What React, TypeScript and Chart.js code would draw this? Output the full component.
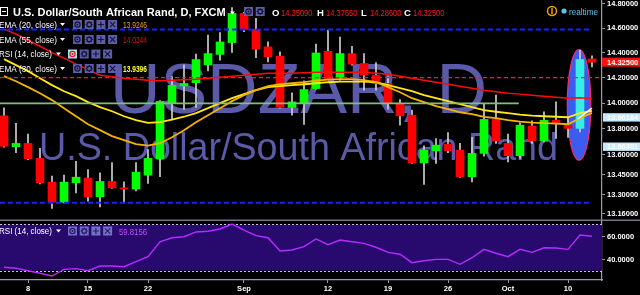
import React, { useEffect, useRef } from 'react';
import { Chart, registerables } from 'chart.js';

Chart.register(...registerables);

const FONT = "'Liberation Sans', Arial, Helvetica, sans-serif";

// ---- categories (trading days) ----
const dates = [
  'Aug 4', 'Aug 5', 'Aug 8', 'Aug 9', 'Aug 10', 'Aug 11', 'Aug 12', 'Aug 15', 'Aug 16', 'Aug 17',
  'Aug 18', 'Aug 19', 'Aug 22', 'Aug 23', 'Aug 24', 'Aug 25', 'Aug 26', 'Aug 29', 'Aug 30', 'Aug 31',
  'Sep 1', 'Sep 2', 'Sep 5', 'Sep 6', 'Sep 7', 'Sep 8', 'Sep 9', 'Sep 12', 'Sep 13', 'Sep 14',
  'Sep 15', 'Sep 16', 'Sep 19', 'Sep 20', 'Sep 21', 'Sep 22', 'Sep 23', 'Sep 26', 'Sep 27', 'Sep 28',
  'Sep 29', 'Sep 30', 'Oct 3', 'Oct 4', 'Oct 5', 'Oct 6', 'Oct 7', 'Oct 10', 'Oct 11', 'Oct 12',
];

// ---- OHLC ----
const opens = [
  13.901, 13.662, 13.688, 13.574, 13.395, 13.245, 13.390, 13.425, 13.285, 13.400,
  13.352, 13.343, 13.447, 13.571, 13.998, 14.136, 14.161, 14.303, 14.387, 14.483,
  14.721, 14.590, 14.448, 14.373, 13.966, 14.002, 14.115, 14.412, 14.202, 14.394,
  14.314, 14.221, 14.155, 13.998, 13.906, 13.540, 13.632, 13.683, 13.637, 13.435,
  13.612, 13.873, 13.688, 13.594, 13.823, 13.708, 13.867, 13.829, 13.804, 14.3509,
];
const highs = [
  13.963, 13.842, 13.759, 13.650, 13.440, 13.447, 13.551, 13.490, 13.465, 13.543,
  13.397, 13.543, 13.642, 14.020, 14.209, 14.303, 14.389, 14.543, 14.565, 14.770,
  14.730, 14.680, 14.488, 14.407, 14.081, 14.176, 14.470, 14.584, 14.527, 14.453,
  14.394, 14.322, 14.207, 14.029, 13.945, 13.670, 13.726, 13.772, 13.688, 13.734,
  13.992, 14.063, 13.759, 13.847, 13.862, 13.932, 14.010, 13.893, 14.421, 14.3765,
];
const lows = [
  13.660, 13.617, 13.565, 13.382, 13.199, 13.240, 13.315, 13.252, 13.211, 13.348,
  13.247, 13.330, 13.385, 13.435, 13.880, 13.951, 13.966, 14.255, 14.341, 14.403,
  14.571, 14.360, 14.327, 13.960, 13.906, 13.834, 14.110, 14.190, 14.181, 14.300,
  14.102, 14.102, 13.953, 13.829, 13.535, 13.377, 13.536, 13.617, 13.430, 13.397,
  13.591, 13.688, 13.548, 13.574, 13.688, 13.700, 13.726, 13.734, 13.777, 14.286,
];
const closes = [
  13.667, 13.688, 13.571, 13.390, 13.245, 13.395, 13.432, 13.285, 13.400, 13.352,
  13.343, 13.470, 13.574, 14.014, 14.140, 14.155, 14.346, 14.394, 14.488, 14.721,
  14.590, 14.429, 14.367, 13.966, 14.010, 14.107, 14.399, 14.194, 14.394, 14.309,
  14.221, 14.155, 13.998, 13.901, 13.540, 13.637, 13.675, 13.632, 13.435, 13.612,
  13.873, 13.708, 13.594, 13.829, 13.708, 13.867, 13.847, 13.804, 14.346, 14.325,
];

// ---- indicators ----
const ema20 = [
  14.213, 14.173, 14.126, 14.078, 14.024, 13.961, 13.898, 13.836, 13.790, 13.744,
  13.713, 13.683, 13.671, 13.690, 13.736, 13.790, 13.852, 13.906, 13.961, 14.016,
  14.063, 14.102, 14.134, 14.149, 14.157, 14.165, 14.177, 14.185, 14.189, 14.189,
  14.181, 14.165, 14.126, 14.086, 14.039, 14.008, 13.977, 13.953, 13.929, 13.914,
  13.893, 13.883, 13.867, 13.856, 13.848, 13.844, 13.840, 13.836, 13.883, 13.9246,
];
const ema30 = [
  14.349, 14.301, 14.253, 14.197, 14.142, 14.094, 14.055, 14.008, 13.969, 13.937,
  13.898, 13.867, 13.846, 13.852, 13.871, 13.894, 13.922, 13.961, 14.000, 14.039,
  14.071, 14.102, 14.126, 14.134, 14.142, 14.149, 14.157, 14.165, 14.169, 14.169,
  14.169, 14.165, 14.142, 14.118, 14.094, 14.063, 14.039, 14.016, 13.992, 13.969,
  13.945, 13.933, 13.922, 13.910, 13.902, 13.898, 13.894, 13.890, 13.922, 13.9396,
];
const ema55 = [
  14.592, 14.551, 14.502, 14.453, 14.401, 14.357, 14.309, 14.265, 14.221, 14.209,
  14.197, 14.189, 14.181, 14.177, 14.181, 14.185, 14.189, 14.197, 14.205, 14.213,
  14.221, 14.229, 14.237, 14.237, 14.237, 14.241, 14.245, 14.245, 14.245, 14.245,
  14.245, 14.237, 14.229, 14.213, 14.197, 14.181, 14.165, 14.149, 14.134, 14.118,
  14.102, 14.090, 14.078, 14.071, 14.063, 14.055, 14.047, 14.039, 14.043, 14.0344,
];
const rsi14 = [
  32.8, 31.9, 29.8, 27.6, 25.2, 31.0, 31.6, 29.8, 33.9, 33.9,
  33.3, 37.7, 42.0, 55.0, 58.5, 59.4, 63.5, 64.1, 66.1, 70.4,
  65.2, 60.3, 58.5, 47.0, 47.8, 50.7, 57.4, 52.4, 56.5, 55.0,
  53.6, 50.2, 45.8, 44.1, 36.8, 38.5, 39.7, 39.7, 35.4, 41.1,
  48.4, 45.0, 42.0, 48.4, 45.8, 49.8, 49.6, 48.4, 60.9, 59.8156,
];

// ---- axes ----
const tickDates = ['Aug 8', 'Aug 15', 'Aug 22', 'Sep 1', 'Sep 12', 'Sep 19', 'Sep 26', 'Oct 3', 'Oct 10'];
const tickLabels = ['8', '15', '22', 'Sep', '12', '19', '26', 'Oct', '10'];
const priceTicks = [14.8, 14.6, 14.4, 14.2, 14.0, 13.8, 13.6, 13.45, 13.3, 13.16];
const rsiTicks = [60, 40];
const rsiBand = [30, 70];

// ---- drawings ----
const blueLevels = [14.59, 13.241];
const redLevel = [14.202];
const greenLevel = [13.998];
const whiteLineIdx = [47.8, 49];
const whiteLineVals = [13.875, 13.961];
const ellipseIdx = [47.92];
const ellipseRange = [13.561, 14.427];
const highlightBar = 48;
const axisMarks = [
  { text: '13.96184', value: 13.889 },
  { text: '13.66301', value: 13.663 },
];

const title = 'U.S. Dollar/South African Rand, D, FXCM';
const watermarkMain = 'USDZAR, D';
const watermarkSub = 'U.S. Dollar/South African Rand';

function drawIcons(ctx: CanvasRenderingContext2D, x0: number, step: number, yc: number, n: number, bg: string, fg: string, hl: boolean) {
  for (let k = 0; k < n; k++) {
    const x = x0 + k * step;
    ctx.fillStyle = hl && k === 0 ? '#a9dcf2' : bg;
    ctx.fillRect(x, yc - 4.5, 9, 9);
    const cx = x + 4.5;
    const cy = yc;
    const c = hl && k === 0 ? '#e02020' : fg;
    ctx.strokeStyle = c;
    ctx.fillStyle = c;
    ctx.lineWidth = 1.2;
    ctx.beginPath();
    if (k === 0) {
      ctx.arc(cx, cy, 2.6, 0, Math.PI * 2);
      ctx.stroke();
      ctx.beginPath();
      ctx.arc(cx, cy, 1, 0, Math.PI * 2);
      ctx.fill();
    } else if (k === 1) {
      ctx.arc(cx, cy, 2.2, 0, Math.PI * 2);
      ctx.stroke();
      for (let a = 0; a < 8; a++) {
        const t = (a * Math.PI) / 4;
        ctx.beginPath();
        ctx.moveTo(cx + Math.cos(t) * 2.2, cy + Math.sin(t) * 2.2);
        ctx.lineTo(cx + Math.cos(t) * 3.6, cy + Math.sin(t) * 3.6);
        ctx.stroke();
      }
    } else if (k === 2) {
      ctx.moveTo(cx - 3, cy);
      ctx.lineTo(cx + 3, cy);
      ctx.moveTo(cx, cy - 3);
      ctx.lineTo(cx, cy + 3);
      ctx.stroke();
    } else {
      ctx.moveTo(cx - 2.6, cy - 2.6);
      ctx.lineTo(cx + 2.6, cy + 2.6);
      ctx.moveTo(cx + 2.6, cy - 2.6);
      ctx.lineTo(cx - 2.6, cy + 2.6);
      ctx.stroke();
    }
  }
}

function drawTri(ctx: CanvasRenderingContext2D, x: number, y: number, color: string) {
  ctx.fillStyle = color;
  ctx.beginPath();
  ctx.moveTo(x, y - 1.5);
  ctx.lineTo(x + 5, y - 1.5);
  ctx.lineTo(x + 2.5, y + 1.5);
  ctx.closePath();
  ctx.fill();
}

const tvPlugin = {
  id: 'tvPlugin',
  beforeDraw(chart: any) {
    const { ctx } = chart;
    ctx.save();
    ctx.fillStyle = '#000';
    ctx.fillRect(0, 0, chart.width, chart.height);
    ctx.restore();
  },
  beforeDatasetsDraw(chart: any) {
    const { ctx, chartArea: ca, scales } = chart;
    const xS = scales.x;
    const yS = scales.y;
    const rS = scales.yRsi;
    ctx.save();
    // watermark
    const mid = (ca.left + ca.right) / 2 - 2.5;
    ctx.fillStyle = '#5a5aa8';
    ctx.textAlign = 'center';
    ctx.textBaseline = 'alphabetic';
    ctx.font = `70px ${FONT}`;
    ctx.fillText(watermarkMain, mid, 113);
    ctx.font = `38px ${FONT}`;
    ctx.fillText(watermarkSub, mid, 160, 519);
    // RSI band
    const y70 = rS.getPixelForValue(rsiBand[1]);
    const y30 = rS.getPixelForValue(rsiBand[0]);
    ctx.fillStyle = '#280a6e';
    ctx.fillRect(ca.left, y70, ca.right - ca.left, y30 - y70);
    ctx.strokeStyle = '#c4c4d4';
    ctx.lineWidth = 1;
    ctx.setLineDash([2, 2]);
    [y70, y30].forEach((y) => {
      ctx.beginPath();
      ctx.moveTo(ca.left, Math.round(y) + 0.5);
      ctx.lineTo(ca.right, Math.round(y) + 0.5);
      ctx.stroke();
    });
    ctx.setLineDash([]);
    // ellipse drawing
    const cx = xS.getPixelForValue(ellipseIdx[0]);
    const rx = (xS.getPixelForValue(1) - xS.getPixelForValue(0)) * 0.98;
    const yt = yS.getPixelForValue(ellipseRange[1]);
    const yb = yS.getPixelForValue(ellipseRange[0]);
    ctx.beginPath();
    ctx.ellipse(cx, (yt + yb) / 2, rx, (yb - yt) / 2, 0, 0, Math.PI * 2);
    ctx.fillStyle = '#3c5cf0';
    ctx.fill();
    ctx.strokeStyle = '#ff2a6a';
    ctx.lineWidth = 1.2;
    ctx.stroke();
    ctx.restore();
  },
  afterDraw(chart: any) {
    const { ctx, chartArea: ca, scales } = chart;
    const yS = scales.y;
    const rS = scales.yRsi;
    ctx.save();
    // pane separator
    ctx.fillStyle = '#74748e';
    ctx.fillRect(0, 219.5, chart.width, 1.5);

    // title row
    ctx.textBaseline = 'alphabetic';
    ctx.textAlign = 'left';
    ctx.strokeStyle = '#ffffff';
    ctx.lineWidth = 1;
    ctx.strokeRect(0.5, 7.5, 7, 8);
    ctx.beginPath();
    ctx.moveTo(2, 11.5);
    ctx.lineTo(6, 11.5);
    ctx.stroke();
    ctx.fillStyle = '#ffffff';
    ctx.font = `bold 11px ${FONT}`;
    ctx.fillText(title, 13, 16, 215);
    drawTri(ctx, 230, 13, '#ffffff');
    drawIcons(ctx, 244, 11.7, 11.5, 2, '#5e5ea8', '#15153a', false);
    const ohlc = [
      ['O', opens[49]],
      ['H', highs[49]],
      ['L', lows[49]],
      ['C', closes[49]],
    ];
    const ox = [272, 317, 361, 404];
    ohlc.forEach(([k, v], i) => {
      ctx.fillStyle = '#ffffff';
      ctx.font = `bold 9.5px ${FONT}`;
      ctx.fillText(k as string, ox[i], 15.5);
      ctx.fillStyle = '#ff1a1a';
      ctx.font = `9.5px ${FONT}`;
      ctx.fillText((v as number).toFixed(5), ox[i] + 9, 15.5, 31.5);
    });

    // indicator legend rows
    const rows = [
      { label: 'EMA (20, close)', value: ema20[49].toFixed(4), color: '#f2a51a', y: 24.5 },
      { label: 'EMA (55, close)', value: ema55[49].toFixed(4), color: '#e01010', y: 39.5 },
      { label: 'RSI (14, close)', value: '', color: '', y: 54 },
      { label: 'EMA (30, close)', value: ema30[49].toFixed(4), color: '#ffff33', y: 68.5 },
    ];
    rows.forEach((r, i) => {
      const isRsi = i === 2;
      ctx.fillStyle = '#ffffff';
      ctx.font = `8.5px ${FONT}`;
      ctx.fillText(r.label, -1, r.y + 3, isRsi ? 53 : 58);
      drawTri(ctx, isRsi ? 56 : 60, r.y, '#ffffff');
      drawIcons(ctx, isRsi ? 68 : 73, 11.7, r.y, 4, '#5e5ea8', '#15153a', isRsi);
      if (r.value) {
        ctx.fillStyle = r.color;
        ctx.font = `${i === 3 ? 'bold ' : ''}9px ${FONT}`;
        ctx.fillText(r.value, 123, r.y + 3.5, 24);
      }
    });

    // RSI pane legend
    const ry = 231;
    ctx.fillStyle = '#ffffff';
    ctx.font = `8.5px ${FONT}`;
    ctx.fillText('RSI (14, close)', -1, ry + 3, 53);
    drawTri(ctx, 56, ry, '#ffffff');
    drawIcons(ctx, 68, 11.7, ry, 4, '#7272c4', '#2a1a6e', false);
    ctx.fillStyle = '#c44cff';
    ctx.font = `9px ${FONT}`;
    ctx.fillText(rsi14[49].toFixed(4), 119, ry + 3.5, 28);

    // top-right status
    ctx.strokeStyle = '#f0a000';
    ctx.lineWidth = 1.5;
    ctx.beginPath();
    ctx.arc(552, 11, 4.5, 0, Math.PI * 2);
    ctx.stroke();
    ctx.beginPath();
    ctx.moveTo(552, 8);
    ctx.lineTo(552, 14);
    ctx.stroke();
    ctx.fillStyle = '#56c4ec';
    ctx.beginPath();
    ctx.arc(564, 11, 2.6, 0, Math.PI * 2);
    ctx.fill();
    ctx.font = `9.5px ${FONT}`;
    ctx.fillText('realtime', 569, 14.5, 29);

    // RSI axis labels
    ctx.font = `bold 7.5px ${FONT}`;
    ctx.textBaseline = 'middle';
    rsiTicks.forEach((t) => {
      const y = rS.getPixelForValue(t);
      ctx.fillStyle = '#9a9ab4';
      ctx.fillRect(ca.right, Math.round(y), 3, 1);
      ctx.fillStyle = '#ffffff';
      ctx.fillText(t.toFixed(4), ca.right + 5, y + 0.5);
    });

    // axis markers
    const lastY = yS.getPixelForValue(closes[49]);
    ctx.fillStyle = '#ff1010';
    ctx.fillRect(ca.right, lastY - 4.5, chart.width - ca.right, 9);
    ctx.fillStyle = '#ffffff';
    ctx.fillText(closes[49].toFixed(5), ca.right + 5, lastY + 0.5);
    axisMarks.forEach((m) => {
      const y = yS.getPixelForValue(m.value);
      ctx.fillStyle = '#c6e9fb';
      ctx.fillRect(ca.right + 1, y - 4.2, chart.width - ca.right - 1, 8.4);
      ctx.fillStyle = '#ffffff';
      ctx.fillText(m.text, ca.right + 5, y + 0.5);
    });
    ctx.restore();
  },
};

export default function App() {
  const ref = useRef<HTMLCanvasElement>(null);
  useEffect(() => {
    document.body.style.margin = '0';
    document.body.style.background = '#000';
    const canvas = ref.current;
    if (!canvas) return;
    const idx = dates.map((_, i) => i);
    const tickIdx = tickDates.map((d) => dates.indexOf(d));
    const series = (vals: number[]) => vals.map((v, i) => ({ x: i, y: v }));
    const bodyColors = idx.map((i) =>
      i === highlightBar ? '#35f0e2' : closes[i] >= opens[i] ? '#00ff00' : '#ff0000'
    );
    const xMin = -1 / 3;
    const xMax = 49 + 5 / 6;
    const hLine = (v: number, from: number, to: number) => [
      { x: from, y: v },
      { x: to, y: v },
    ];
    const lineBase = {
      type: 'line' as const,
      pointRadius: 0,
      fill: false,
      xAxisID: 'x',
    };

    const chart = new Chart(canvas, {
      type: 'bar',
      data: {
        datasets: [
          { ...lineBase, data: hLine(greenLevel[0], xMin, 42.9), borderColor: '#7ec27a', borderWidth: 1.6, yAxisID: 'y', order: 1 } as any,
          { ...lineBase, data: hLine(redLevel[0], xMin, xMax), borderColor: '#ff1a1a', borderWidth: 1.3, borderDash: [4, 3], yAxisID: 'y', order: 2 } as any,
          { ...lineBase, data: hLine(blueLevels[0], xMin, 49), borderColor: '#1424ff', borderWidth: 2, borderDash: [5, 3], yAxisID: 'y', order: 3 } as any,
          { ...lineBase, data: hLine(blueLevels[1], xMin, 49), borderColor: '#1424ff', borderWidth: 2, borderDash: [5, 3], yAxisID: 'y', order: 3 } as any,
          { ...lineBase, data: whiteLineIdx.map((x, i) => ({ x, y: whiteLineVals[i] })), borderColor: '#ffffff', borderWidth: 1.5, yAxisID: 'y', order: 4 } as any,
          { ...lineBase, data: series(ema20), borderColor: '#f3b300', borderWidth: 1.8, yAxisID: 'y', order: 5 } as any,
          { ...lineBase, data: series(ema30), borderColor: '#ffe81a', borderWidth: 1.8, yAxisID: 'y', order: 5 } as any,
          { ...lineBase, data: series(ema55), borderColor: '#ff0a0a', borderWidth: 1.5, yAxisID: 'y', order: 6 } as any,
          { ...lineBase, data: series(rsi14), borderColor: '#b42cff', borderWidth: 1.4, yAxisID: 'yRsi', order: 7 } as any,
          {
            type: 'bar',
            data: idx.map((i) => ({ x: i, y: [opens[i], closes[i]] })),
            backgroundColor: bodyColors,
            borderWidth: 0,
            barThickness: 8,
            minBarLength: 1,
            grouped: false,
            xAxisID: 'x',
            yAxisID: 'y',
            order: 10,
          } as any,
          {
            type: 'bar',
            data: idx.map((i) => ({ x: i, y: [lows[i], highs[i]] })),
            backgroundColor: '#cfcfcf',
            borderWidth: 0,
            barThickness: 1,
            grouped: false,
            xAxisID: 'x',
            yAxisID: 'y',
            order: 11,
          } as any,
        ],
      },
      options: {
        animation: false,
        responsive: false,
        maintainAspectRatio: false,
        events: [],
        layout: { padding: 0 },
        plugins: { legend: { display: false }, tooltip: { enabled: false } },
        scales: {
          x: {
            type: 'linear',
            min: xMin,
            max: xMax,
            offset: false,
            bounds: 'data',
            afterBuildTicks: (s: any) => {
              s.ticks = tickIdx.map((v) => ({ value: v }));
            },
            afterFit: (s: any) => {
              s.height = 15;
              s.paddingLeft = 0;
              s.paddingRight = 0;
            },
            ticks: {
              autoSkip: false,
              maxRotation: 0,
              padding: 1,
              color: '#ffffff',
              font: { size: 7.5, weight: 'bold', family: FONT },
              callback: (v: any) => tickLabels[tickIdx.indexOf(Number(v))] ?? '',
            },
            grid: { display: true, offset: false, drawOnChartArea: false, drawTicks: true, tickLength: 3, color: '#9a9ab4' },
            border: { display: true, color: '#9a9ab4', width: 1.2 },
          },
          y: {
            type: 'logarithmic',
            position: 'right',
            min: 12.681,
            max: 14.832,
            bounds: 'data',
            afterBuildTicks: (s: any) => {
              s.ticks = priceTicks.map((v) => ({ value: v }));
            },
            afterFit: (s: any) => {
              s.width = 38;
              s.paddingTop = 0;
              s.paddingBottom = 0;
            },
            ticks: {
              autoSkip: false,
              padding: 2,
              color: '#ffffff',
              font: { size: 7.5, weight: 'bold', family: FONT },
              callback: (v: any) => Number(v).toFixed(5),
            },
            grid: { display: true, drawOnChartArea: false, drawTicks: true, tickLength: 3, color: '#9a9ab4' },
            border: { display: true, color: '#9a9ab4', width: 1.2 },
          },
          yRsi: {
            type: 'linear',
            display: false,
            min: 21.74,
            max: 265.2,
          },
        },
      } as any,
      plugins: [tvPlugin],
    });
    return () => chart.destroy();
  }, []);

  return (
    <canvas
      ref={ref}
      width={640}
      height={295}
      style={{ display: 'block', width: 640, height: 295 }}
    />
  );
}
